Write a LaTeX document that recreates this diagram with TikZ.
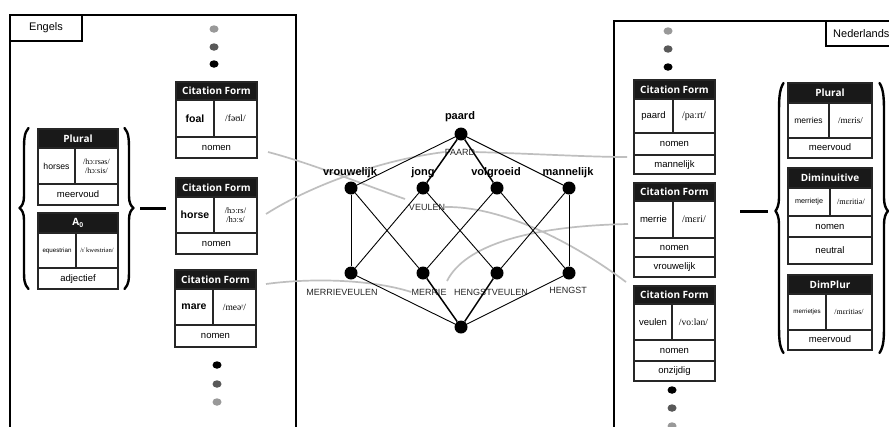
\documentclass[tikz,border=0pt]{standalone}
\usepackage{fontspec}
\setmainfont{Liberation Sans}
\newfontfamily\hdrfont{Open Sans}
\newfontfamily\ipafont{Liberation Serif}
\usetikzlibrary{calc,shapes.geometric}
\newcommand\fsz[1]{\fontsize{#1}{#1}\selectfont}
\tikzset{
  hdr/.style={text=white, font=\hdrfont\bfseries\fsz{10}, inner sep=0pt},
  cellt/.style={font=\fsz{9.5}, inner sep=0pt, align=center, text height=0.72em, text depth=0.2em},
  wordb/.style={font=\bfseries\fsz{10.5}, inner sep=0pt},
  wordr/.style={font=\fsz{9.5}, inner sep=0pt},
  ipa/.style={font=\ipafont\fsz{9.5}, inner sep=0pt, align=center},
  frame/.style={draw=black!85, line width=1.1pt},
  link/.style={draw=black!25, line width=1.7pt},
  panel/.style={draw=black, line width=1.1pt},
  lat/.style={line width=0.9pt},
  latb/.style={line width=1.5pt},
  vtx/.style={circle, fill=black, minimum size=13pt, inner sep=0pt},
  lbl/.style={font=\bfseries\fsz{11}, inner sep=0pt},
  obj/.style={font=\fsz{9}, text=black!85, inner sep=0pt},
  brace/.style={line width=2.4pt, line cap=round, line join=round},
  dashbar/.style={line width=3pt},
  dotc/.style={ellipse, minimum width=9pt, minimum height=7.5pt, inner sep=0pt}
}
% #1 name #2 x1 #3 xd #4 x2 #5 ytop #6 yhead #7 yrow #8 header
\newcommand\boxtop[8]{%
  \fill[black!90] (#2,#5) rectangle (#4,#6);
  \draw[frame] (#2,#5) rectangle (#4,#6);
  \node[hdr] (#1) at ({(#2+#4)/2},{(#5+#6)/2}) {#8};
  \draw[frame] (#2,#6) rectangle (#3,#7);
  \draw[frame] (#3,#6) rectangle (#4,#7);}
% #1 name #2 x1 #3 x2 #4 y1 #5 y2 #6 text
\newcommand\boxrow[6]{%
  \draw[frame] (#2,#4) rectangle (#3,#5);
  \node[cellt] (#1) at ({(#2+#3)/2},{(#4+#5)/2}) {#6};}
\begin{document}
\begin{tikzpicture}[x=1pt,y=-1pt]
\useasboundingbox (0,0) rectangle (889,426);
\clip (0,0) rectangle (889,426);
\fill[white] (0,0) rectangle (889,426);

% ---------- panels ----------
\draw[panel] (10,430) -- (10,15) -- (296,15) -- (296,430);
\draw[panel] (10,15) rectangle (82,41);
\node[font=\fsz{11}, inner sep=0pt] (engels) at (46,28) {Engels};
\draw[panel] (614,430) -- (614,21) -- (895,21);
\draw[panel] (826,21) rectangle (895,46);
\node[font=\fsz{11}, inner sep=0pt, anchor=west] (ned) at (833,33.5) {Nederlands};

% ---------- dots ----------
\node[dotc, fill=black!40] (dl1) at (214,29) {};
\node[dotc, fill=black!65] (dl2) at (214,47) {};
\node[dotc, fill=black]    (dl3) at (214,64) {};
\node[dotc, fill=black]    (dl4) at (217,365) {};
\node[dotc, fill=black!65] (dl5) at (217,384) {};
\node[dotc, fill=black!40] (dl6) at (217,402) {};
\node[dotc, fill=black!40] (dr1) at (668,31) {};
\node[dotc, fill=black!65] (dr2) at (668,49) {};
\node[dotc, fill=black]    (dr3) at (668,67) {};
\node[dotc, fill=black]    (dr4) at (672,390) {};
\node[dotc, fill=black!65] (dr5) at (672,408) {};
\node[dotc, fill=black!40] (dr6) at (672,426) {};

% ---------- left boxes ----------
\boxtop{cf1}{176}{214}{257}{82}{100}{137}{Citation Form}
\node[wordb] (w1) at (195,118.5) {foal};
\node[ipa] (p1) at (235.5,118.5) {/fəʊl/};
\boxrow{r1}{176}{257}{137}{158}{nomen}

\boxtop{cf2}{176}{214}{257}{178}{197}{233}{Citation Form}
\node[wordb] (w2) at (195,215) {horse};
\node[ipa, font=\ipafont\fsz{8.5}] (p2) at (235.5,215) {/hɔːrs/\\[1pt]/hɔːs/};
\boxrow{r2}{176}{257}{233}{254}{nomen}

\boxtop{cf3}{175}{213}{256}{270}{289}{325}{Citation Form}
\node[wordb] (w3) at (194,307) {mare};
\node[ipa] (p3) at (234.5,307) {/meəʳ/};
\boxrow{r3}{175}{256}{325}{347}{nomen}

\boxtop{pl1}{38}{75}{118}{129}{148}{184}{Plural}
\node[wordr, font=\fsz{8.7}] (w4) at (56.5,166) {horses};
\node[ipa, font=\ipafont\fsz{8}] (p4) at (96.5,166) {/hɔːrsəs/\\[1pt]/hɔːsis/};
\boxrow{r4}{38}{118}{184}{205}{meervoud}

\boxtop{a01}{38}{76}{118}{213}{233}{268}{A$_{\mathbf{0}}$}
\node[wordr, font=\fsz{6.2}] (w5) at (57,250.5) {equestrian};
\node[ipa, font=\ipafont\fsz{6.6}] (p5) at (97,250.5) {/ɪˈkwestriən/};
\boxrow{r5}{38}{118}{268}{289}{adjectief}

% braces and dash left
\draw[brace] (28.5,128) .. controls (24,133) and (24,140) .. (24,152) -- (24,196)
  .. controls (24,203) and (22,206) .. (19.5,208) .. controls (22,210) and (24,213) .. (24,220)
  -- (24,268) .. controls (24,280) and (24,284) .. (28.5,289);
\draw[brace] (124.5,128) .. controls (129,133) and (129,140) .. (129,152) -- (129,196)
  .. controls (129,203) and (131,206) .. (133.5,208) .. controls (131,210) and (129,213) .. (129,220)
  -- (129,268) .. controls (129,280) and (129,284) .. (124.5,289);
\coordinate (dlA) at (140,208);
\coordinate (dlB) at (166,208);
\draw[dashbar] (dlA) -- (dlB);

% ---------- right boxes ----------
\boxtop{cf4}{634}{673}{715}{80}{99}{133}{Citation Form}
\node[wordr] (w6) at (653.5,116) {paard};
\node[ipa, font=\ipafont\fsz{10}] (p6) at (694,116) {/paːrt/};
\boxrow{r6}{634}{715}{133}{155}{nomen}
\boxrow{r7}{634}{715}{155}{174}{mannelijk}

\boxtop{cf5}{634}{673}{715}{183}{201}{238}{Citation Form}
\node[wordr] (w7) at (653.5,219.5) {merrie};
\node[ipa, font=\ipafont\fsz{10}] (p7) at (694,219.5) {/mɛri/};
\boxrow{r8}{634}{715}{238}{257}{nomen}
\boxrow{r9}{634}{715}{257}{277}{vrouwelijk}

\boxtop{cf6}{634}{672}{715}{286}{304}{340}{Citation Form}
\node[wordr] (w8) at (653,322) {veulen};
\node[ipa, font=\ipafont\fsz{9.5}] (p8) at (693.5,322) {/voːlən/};
\boxrow{r10}{634}{715}{340}{361}{nomen}
\boxrow{r11}{634}{715}{361}{381}{onzijdig}

\boxtop{pl2}{788}{829}{872}{83}{103}{138}{Plural}
\node[wordr, font=\fsz{8.5}] (w9) at (808.5,120.5) {merries};
\node[ipa, font=\ipafont\fsz{9}] (p9) at (850.5,120.5) {/mɛris/};
\boxrow{r12}{788}{872}{138}{158}{meervoud}

\boxtop{dim}{788}{830}{872}{168}{188}{216}{Diminuitive}
\node[wordr, font=\fsz{7.2}] (w10) at (809,202) {merrietje};
\node[ipa, font=\ipafont\fsz{8.2}] (p10) at (851,202) {/mɛritiə/};
\boxrow{r13}{788}{872}{216}{237}{nomen}
\boxrow{r14}{788}{872}{237}{264}{neutral}

\boxtop{dpl}{788}{826}{872}{275}{294}{330}{DimPlur}
\node[wordr, font=\fsz{6.2}] (w11) at (807,312) {merrietjes};
\node[ipa, font=\ipafont\fsz{7.8}] (p11) at (849,312) {/mɛritiəs/};
\boxrow{r15}{788}{872}{330}{350}{meervoud}

% braces and dash right
\draw[brace] (783.5,83) .. controls (779,90) and (779,100) .. (779,115) -- (779,198)
  .. controls (779,205) and (777,209) .. (775.5,211) .. controls (777,213) and (779,217) .. (779,224)
  -- (779,322) .. controls (779,338) and (779,346) .. (783.5,353);
\draw[brace] (879.5,83) .. controls (884,90) and (884,100) .. (884,115) -- (884,198)
  .. controls (884,205) and (886,209) .. (888,211) .. controls (886,213) and (884,217) .. (884,224)
  -- (884,322) .. controls (884,338) and (884,346) .. (879.5,353);
\coordinate (drA) at (740,211);
\coordinate (drB) at (768,211);
\draw[dashbar] (drA) -- (drB);

% ---------- lattice labels ----------
\node[obj] (oPAARD) at (460,152) {PAARD};
\node[obj] (oVEULEN) at (427,207) {VEULEN};
\node[obj] (oMV) at (342,292) {MERRIEVEULEN};
\node[obj] (oME) at (429,292) {MERRIE};
\node[obj] (oHV) at (491,292) {HENGSTVEULEN};
\node[obj] (oHE) at (568,290) {HENGST};

% ---------- gray links ----------
\coordinate (c1) at (268,152);
\coordinate (c2) at (266,214);
\coordinate (c3) at (266,284);
\coordinate (c4) at (627,157);
\coordinate (c5) at (626,282);
\coordinate (c6) at (628,224);
\coordinate (vA) at (405,199);
\coordinate (mA) at (447,281);
\draw[link] (c1) .. controls (310,163) and (365,185) .. (vA);
\draw[link] (c2) .. controls (310,186) and (380,160) .. (oPAARD.west);
\draw[link] (c3) .. controls (310,278) and (370,279) .. (oME.west);
\draw[link] (oPAARD.east) .. controls (540,154) and (590,157) .. (c4);
\draw[link] (oVEULEN.east) .. controls (500,206) and (570,240) .. (c5);
\draw[link] (mA) .. controls (465,245) and (530,226) .. (c6);

% ---------- lattice ----------
\node[vtx] (top) at (461,134) {};
\node[vtx] (vr) at (351,188) {};
\node[vtx] (jo) at (423,188) {};
\node[vtx] (vo) at (497,188) {};
\node[vtx] (ma) at (569,188) {};
\node[vtx] (mv) at (351,273) {};
\node[vtx] (me) at (423,273) {};
\node[vtx] (hv) at (497,273) {};
\node[vtx] (he) at (569,273) {};
\node[vtx] (bot) at (461,327) {};
\draw[lat] (top) -- (vr);
\draw[latb] (top) -- (jo);
\draw[latb] (top) -- (vo);
\draw[lat] (top) -- (ma);
\draw[lat] (vr) -- (mv);
\draw[lat] (vr) -- (me);
\draw[lat] (jo) -- (mv);
\draw[lat] (jo) -- (hv);
\draw[lat] (vo) -- (me);
\draw[lat] (vo) -- (he);
\draw[lat] (ma) -- (hv);
\draw[lat] (ma) -- (he);
\draw[lat] (mv) -- (bot);
\draw[latb] (me) -- (bot);
\draw[latb] (hv) -- (bot);
\draw[lat] (he) -- (bot);

\node[lbl] (lpaard) at (460,117) {paard};
\node[lbl] (lvr) at (350,173) {vrouwelijk};
\node[lbl] (ljo) at (423,173) {jong};
\node[lbl] (lvo) at (496,173) {volgroeid};
\node[lbl] (lma) at (568,173) {mannelijk};
\end{tikzpicture}
\end{document}
